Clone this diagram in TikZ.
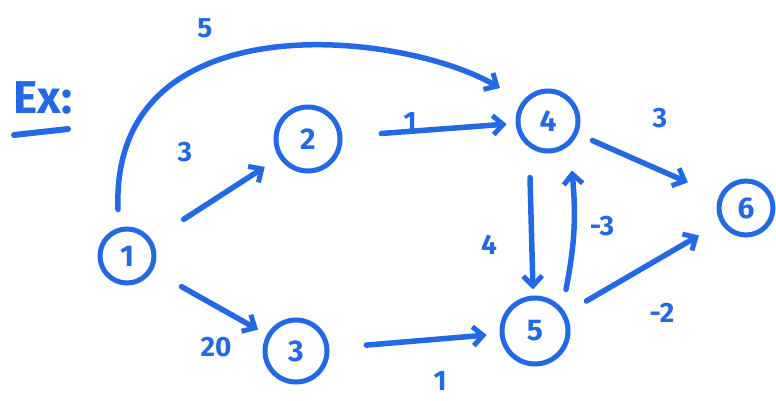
\documentclass[tikz,border=0pt]{standalone}
\usepackage{fontspec}
\setmainfont{Fira Sans}
\usetikzlibrary{arrows.meta}
\definecolor{ink}{RGB}{35,105,228}
\begin{document}
\begin{tikzpicture}[x=1pt,y=-1pt,
  vert/.style={circle,draw=ink,line width=5pt,text=ink,inner sep=0pt,font=\fontsize{30}{30}\selectfont\bfseries},
  edge/.style={draw=ink,line width=5.5pt,line cap=round,-{Straight Barb[length=10pt,width=19pt,line width=5pt]}},
  lab/.style={text=ink,font=\fontsize{28}{28}\selectfont\bfseries}]
\useasboundingbox (0,0) rectangle (776,401);
\node[vert,minimum size=54pt] (n1) at (127,256) {1};
\node[vert,minimum size=64pt] (n2) at (308,139) {2};
\node[vert,minimum size=62pt] (n3) at (296,351) {3};
\node[vert,minimum size=60pt] (n4) at (548,121) {4};
\node[vert,minimum size=66pt] (n5) at (535,331) {5};
\node[vert,minimum size=54pt] (n6) at (746,208) {6};
\node[text=ink,font=\fontsize{46}{46}\selectfont\bfseries] (ex) at (43,98) {Ex:};
\coordinate (ul1) at (14,135);
\coordinate (ul2) at (68,129);
\draw[draw=ink,line width=6pt,line cap=round] (ul1) -- (ul2);
% edges
\draw[edge] ([xshift=-9pt,yshift=17pt]n1.north) .. controls (110,0) and (400,30) .. ([xshift=-48pt,yshift=33pt]n4.center);
\draw[edge,shorten <=38pt,shorten >=17pt] (n1) -- (n2);
\draw[edge,shorten <=33pt,shorten >=10pt] (n1) -- (n3);
\draw[edge,shorten <=39pt,shorten >=9pt] (n2) -- (n4);
\draw[edge,shorten <=37pt,shorten >=13pt] (n3) -- (n5);
\draw[edge,shorten <=16pt,shorten >=34pt] (n4) -- (n6);
\draw[edge,shorten <=24pt,shorten >=25pt] (n5) -- (n6);
\draw[edge] ([xshift=-18pt,yshift=-24pt]n4.south) -- ([xshift=-2pt,yshift=6pt]n5.north);
\draw[edge] ([xshift=31pt,yshift=6pt]n5.north) to[bend right=8] ([xshift=24pt,yshift=-17pt]n4.south);
% labels
\node[lab] (l14) at (205,28) {5};
\node[lab] (l12) at (185,152) {3};
\node[lab] (l13) at (216,347) {20};
\node[lab] (l24) at (410,122) {1};
\node[lab] (l35) at (440,381) {1};
\node[lab] (l46) at (660,118) {3};
\node[lab] (l45) at (489,245) {4};
\node[lab] (l54) at (602,226) {-3};
\node[lab] (l56) at (662,313) {-2};
\end{tikzpicture}
\end{document}
